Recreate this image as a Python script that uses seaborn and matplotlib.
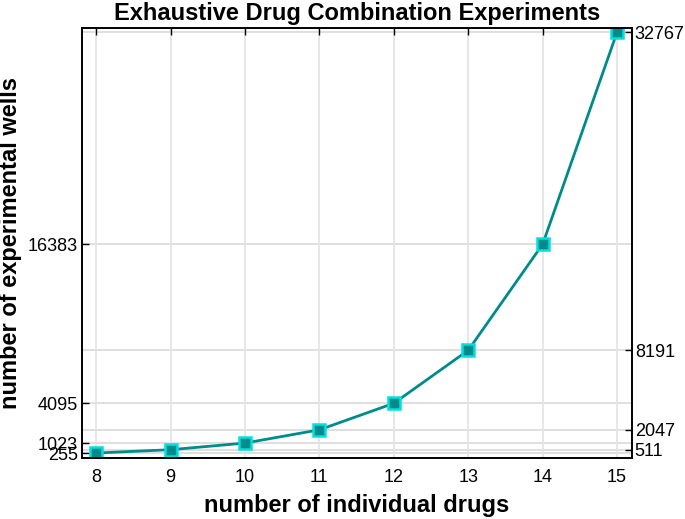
import matplotlib
matplotlib.use("Agg")
import matplotlib.pyplot as plt
import seaborn as sns
import pandas as pd

drugs = [8, 9, 10, 11, 12, 13, 14, 15]
wells = [255, 511, 1023, 2047, 4095, 8191, 16383, 32767]
left_ticks = [255, 1023, 4095, 16383]
right_ticks = [511, 2047, 8191, 32767]

sns.set_theme(style="white")
plt.rcParams['font.family'] = ['Liberation Sans', 'DejaVu Sans']
plt.rcParams['text.color'] = 'black'
plt.rcParams['axes.labelcolor'] = 'black'

df = pd.DataFrame({"drugs": drugs, "wells": wells})

fig = plt.figure(figsize=(6.85, 5.19), dpi=100)
ax = fig.add_axes([82/685, 1-458/519, 550/685, 430/519])

for v in wells:
    ax.axhline(v, color='#d9d9d9', lw=1.2, zorder=0)
for d in drugs:
    ax.axvline(d, color='#e3e3e3', lw=1.2, zorder=0)

sns.lineplot(data=df, x="drugs", y="wells", ax=ax, color='#008b8b', lw=2,
             marker='s', markersize=9, markerfacecolor='#008b8b',
             markeredgecolor='#00e0e0', markeredgewidth=1.8)

ax.set_xlim(7.81, 15.2)
ax.set_ylim(-130, 33080)
ax.set_xticks(drugs)
ax.set_yticks(left_ticks)
ax.tick_params(axis='both', labelsize=13, direction='in', length=5, width=1,
               colors='black', top=True)
ax.tick_params(axis='x', pad=8)
ax.tick_params(axis='y', pad=3)

ax2 = ax.twinx()
ax2.set_ylim(ax.get_ylim())
ax2.set_yticks(right_ticks)
ax2.tick_params(axis='y', labelsize=13, direction='in', length=5, width=1,
                colors='black', pad=2)

for a in (ax, ax2):
    for s in a.spines.values():
        s.set_color('black')
        s.set_linewidth(1.2)

ax.set_xlabel("number of individual drugs", fontsize=17, fontweight='bold', labelpad=6, color='black')
ax.set_ylabel("number of experimental wells", fontsize=17, fontweight='bold', labelpad=4, color='black')
ax.set_title("Exhaustive Drug Combination Experiments", fontsize=17, fontweight='bold', pad=6, color='black')

fig.savefig("out.png", dpi=100)
